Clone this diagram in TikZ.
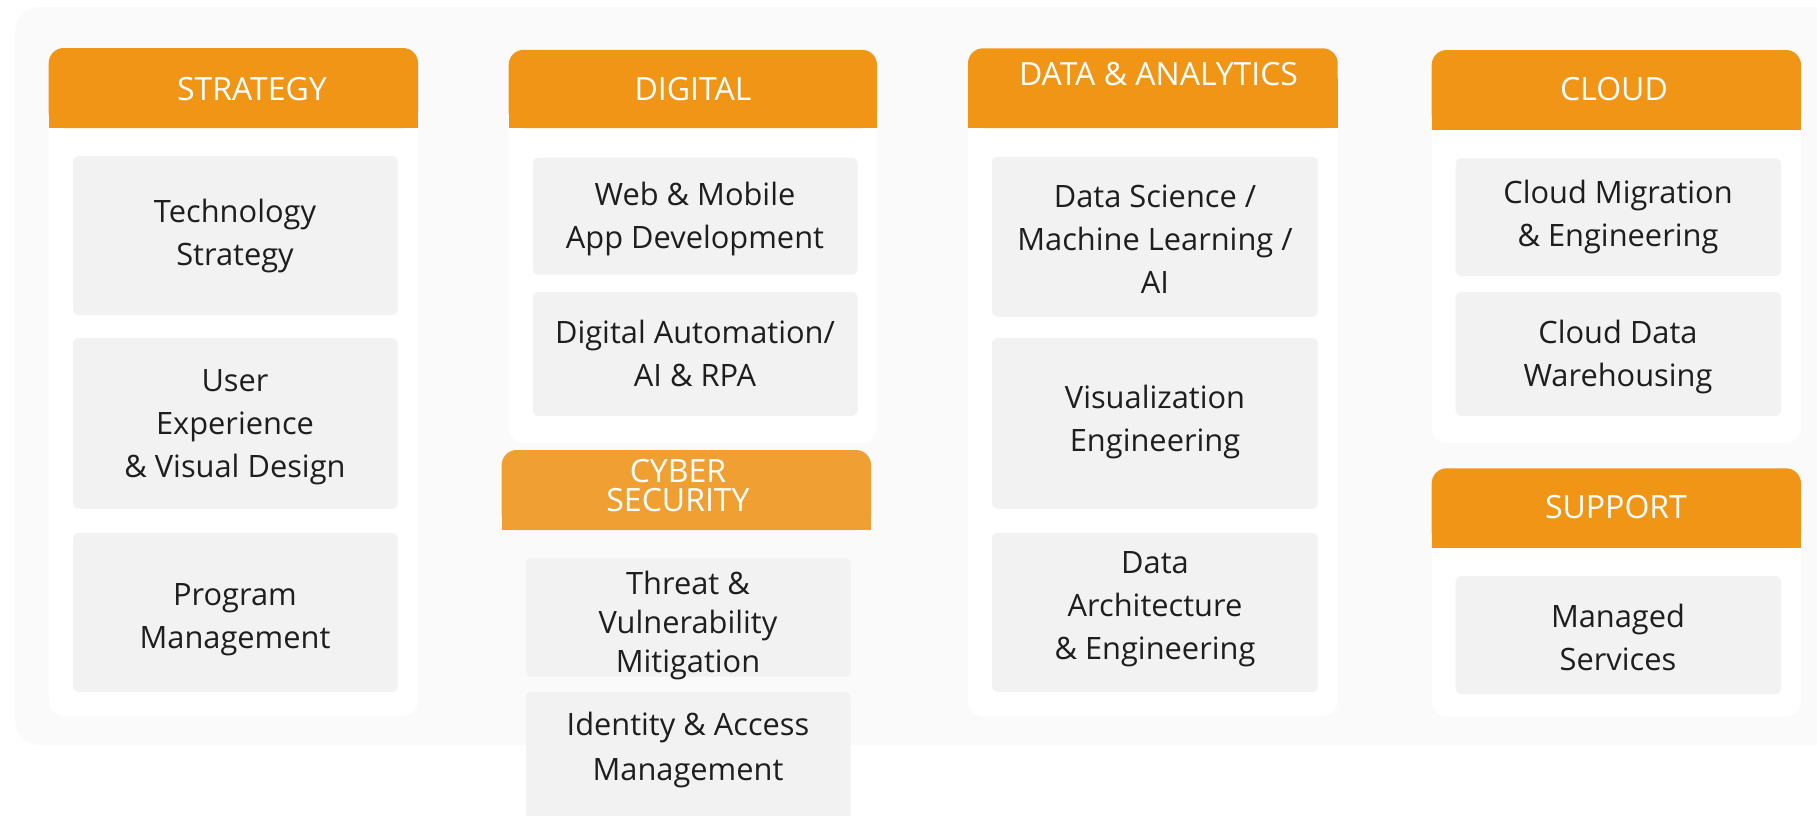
\documentclass[tikz,border=0pt]{standalone}
\usepackage{fontspec}
\setmainfont{Open Sans}
\definecolor{hdrorange}{HTML}{F09516}
\definecolor{cyberorange}{HTML}{F0A032}
\definecolor{panelgray}{HTML}{FAFAFA}
\definecolor{itemgray}{HTML}{F2F2F2}
\definecolor{inkgray}{HTML}{1E1E1E}
\begin{document}
\begin{tikzpicture}[x=0.5pt,y=-0.5pt,
		hdr/.style={text=white,align=center,font=\fontsize{16}{14.5}\selectfont},
		txt/.style={text=inkgray,align=center,font=\fontsize{15.4}{21.5}\selectfont},
		item/.style={fill=itemgray,rounded corners=2.5pt},
		column/.style={fill=white,rounded corners=7.5pt}]
	\useasboundingbox (0,0) rectangle (1817,815);
	\fill[panelgray,rounded corners=12pt] (15,7) rectangle (1860,745);
	% columns
	\fill[column] (48.7,48) rectangle (418,716);
	\fill[column] (508.7,49.8) rectangle (877,443);
	\fill[column] (968,48.3) rectangle (1337.7,716);
	\fill[column] (1431.7,50) rectangle (1801,443);
	\fill[column] (1431.7,468.3) rectangle (1801,716.7);
	% headers
	\foreach \xa/\ya/\xb/\yb in {48.7/48/418/128, 508.7/49.8/877/128, 968/48.3/1337.7/128, 1431.7/50/1801/129.7, 1431.7/468.3/1801/547.7}{
		\fill[hdrorange,rounded corners=7.5pt] (\xa,\ya) rectangle (\xb,\yb);
		\fill[hdrorange] (\xa,\ya+30) rectangle (\xb,\yb);}
	\fill[cyberorange,rounded corners=7.5pt] (501.7,450) rectangle (871,530);
	\fill[cyberorange] (501.7,480) rectangle (871,530);
	\node[hdr] (strategy) at (252,89) {STRATEGY};
	\node[hdr] (digital) at (693,89) {DIGITAL};
	\node[hdr] (cyber) at (678,486) {CYBER\\SECURITY};
	\node[hdr] (data) at (1158.5,74) {DATA \& ANALYTICS};
	\node[hdr] (cloud) at (1614,89) {CLOUD};
	\node[hdr] (support) at (1616,507) {SUPPORT};
	% strategy
	\fill[item] (73,156) rectangle (397.5,315);
	\fill[item] (73,338) rectangle (397.5,508.7);
	\fill[item] (73,533) rectangle (397.5,692);
	\node[txt] (techstrat) at (235,236) {Technology\\Strategy};
	\node[txt] (uxdesign) at (235,427) {User\\Experience\\\& Visual Design};
	\node[txt] (progmgmt) at (235,620) {Program\\Management};
	% digital
	\fill[item] (533,157.6) rectangle (857.5,274.6);
	\fill[item] (533,292) rectangle (857.5,416);
	\node[txt] (webmobile) at (695,219) {Web \& Mobile\\App Development};
	\node[txt] (digauto) at (695,353) {Digital Automation/\\AI \& RPA};
	% cyber security
	\fill[item] (526,558) rectangle (850.7,676.7);
	\fill[item] (526,692) rectangle (850.7,830);
	\node[txt,font=\fontsize{15.4}{19.5}\selectfont] (threat) at (688,625) {Threat \&\\Vulnerability\\Mitigation};
	\node[txt,font=\fontsize{15.4}{22.5}\selectfont] (identity) at (688,750) {Identity \& Access\\Management};
	% data & analytics
	\fill[item] (992,156.7) rectangle (1317.7,316.7);
	\fill[item] (992,338) rectangle (1317.7,508.7);
	\fill[item] (992,533) rectangle (1317.7,692);
	\node[txt] (datasci) at (1155,239) {Data Science /\\Machine Learning /\\AI};
	\node[txt] (visual) at (1155,422) {Visualization\\Engineering};
	\node[txt] (dataarch) at (1155,609) {Data\\Architecture\\\& Engineering};
	% cloud
	\fill[item] (1455.7,158.3) rectangle (1781,276);
	\fill[item] (1455.7,292) rectangle (1781,416);
	\node[txt] (cloudmig) at (1618,217) {Cloud Migration\\\& Engineering};
	\node[txt] (clouddw) at (1618,357) {Cloud Data\\Warehousing};
	% support
	\fill[item] (1455.7,576) rectangle (1781,694);
	\node[txt] (managed) at (1618,637) {Managed\\Services};
\end{tikzpicture}
\end{document}
